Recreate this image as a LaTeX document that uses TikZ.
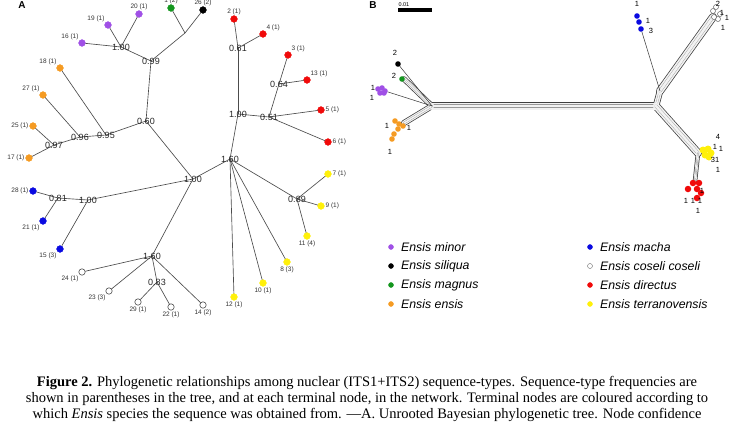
\documentclass[tikz,border=0pt]{standalone}
\usepackage{fontspec}
\setmainfont{Liberation Serif}
\setsansfont{Liberation Sans}
\usepackage{tikz}
\usetikzlibrary{positioning}
\usepackage{xcolor}
\definecolor{eminor}{RGB}{160,80,230}
\definecolor{emagnus}{RGB}{20,150,30}
\definecolor{eensis}{RGB}{245,155,35}
\definecolor{emacha}{RGB}{10,10,225}
\definecolor{edirectus}{RGB}{240,10,10}
\definecolor{eterra}{RGB}{255,240,10}

\begin{document}
\begin{tikzpicture}[x=1pt,y=-1pt,line cap=round,font=\sffamily,
  leaf/.style={circle,inner sep=0pt,minimum size=6.8pt,fill=#1,draw=#1},
  openleaf/.style={circle,inner sep=0pt,minimum size=6.4pt,fill=white,draw=black!70,line width=0.6pt},
  tip/.style={font=\sffamily\fontsize{6.5}{7}\selectfont,inner sep=0.8pt,text=black!80},
  conf/.style={font=\sffamily\fontsize{9}{9}\selectfont,inner sep=0pt,text=black!85},
  branch/.style={black!70,line width=0.65pt},
  ndot/.style={circle,inner sep=0pt,minimum size=5.6pt,fill=#1},
  nopen/.style={circle,inner sep=0pt,minimum size=5pt,fill=white,draw=black!60,line width=0.5pt},
  numlab/.style={font=\sffamily\fontsize{7.5}{8}\selectfont,inner sep=0pt},
  netline/.style={black!75,line width=0.55pt},
  legdot/.style={circle,inner sep=0pt,minimum size=5pt,fill=#1},
  legtext/.style={font=\sffamily\itshape\fontsize{12.3}{13}\selectfont,anchor=west,inner sep=0pt},
  caption/.style={font=\rmfamily\fontsize{14.5}{16}\selectfont,inner sep=0pt},
  panel/.style={font=\sffamily\bfseries\fontsize{10}{10}\selectfont,inner sep=0pt}]
\useasboundingbox (0,0) rectangle (734,426);

% panel A: unrooted tree
\node[panel] (labA) at (22,5) {A};
\coordinate (nP) at (121,47);
\coordinate (nGK) at (185,33);
\coordinate (n099) at (151,61);
\coordinate (n060) at (146,121);
\coordinate (n095) at (106,135);
\coordinate (n096) at (80,137);
\coordinate (n097) at (54,145);
\coordinate (nC) at (193,179);
\coordinate (nB) at (88,200);
\coordinate (n081) at (58,198);
\coordinate (nW) at (152,256);
\coordinate (n083) at (157,282);
\coordinate (nY) at (230,159);
\coordinate (nR) at (238,114);
\coordinate (n061) at (238,48);
\coordinate (n051) at (269,117);
\coordinate (n064) at (279,84);
\coordinate (n089) at (297,199);

\node[leaf=eminor,label={[tip]above left:16 (1)}] (t16) at (82,43) {};
\node[leaf=eminor,label={[tip]above left:19 (1)}] (t19) at (108,25) {};
\node[leaf=eminor,label={[tip]above:20 (1)}] (t20) at (139,14) {};
\node[leaf=emagnus,label={[tip]above:1 (2)}] (t1) at (171,8) {};
\node[leaf=black,label={[tip]above:26 (2)}] (t26) at (203,10) {};
\node[leaf=eensis,label={[tip]above left:18 (1)}] (t18) at (60,68) {};
\node[leaf=eensis,label={[tip]above left:27 (1)}] (t27) at (43,95) {};
\node[leaf=eensis,label={[tip]left:25 (1)}] (t25) at (33,126) {};
\node[leaf=eensis,label={[tip]left:17 (1)}] (t17) at (29,158) {};
\node[leaf=emacha,label={[tip]left:28 (1)}] (t28) at (33,191) {};
\node[leaf=emacha,label={[tip]below left:21 (1)}] (t21) at (43,221) {};
\node[leaf=emacha,label={[tip]below left:15 (3)}] (t15) at (60,249) {};
\node[openleaf,label={[tip]below left:24 (1)}] (t24) at (82,272) {};
\node[openleaf,label={[tip]below left:23 (3)}] (t23) at (109,291) {};
\node[openleaf,label={[tip]below:29 (1)}] (t29) at (138,302) {};
\node[openleaf,label={[tip]below:22 (1)}] (t22) at (171,307) {};
\node[openleaf,label={[tip]below:14 (2)}] (t14) at (203,305) {};
\node[leaf=edirectus,label={[tip]above:2 (1)}] (t2) at (234,19) {};
\node[leaf=edirectus,label={[tip]above right:4 (1)}] (t4) at (263,34) {};
\node[leaf=edirectus,label={[tip]above right:3 (1)}] (t3) at (288,55) {};
\node[leaf=edirectus,label={[tip]above right:13 (1)}] (t13) at (307,80) {};
\node[leaf=edirectus,label={[tip]right:5 (1)}] (t5) at (321,110) {};
\node[leaf=edirectus,label={[tip]right:6 (1)}] (t6) at (328,142) {};
\node[leaf=eterra,label={[tip]right:7 (1)}] (t7) at (328,174) {};
\node[leaf=eterra,label={[tip]right:9 (1)}] (t9) at (321,206) {};
\node[leaf=eterra,label={[tip]below:11 (4)}] (t11) at (307,236) {};
\node[leaf=eterra,label={[tip]below:8 (3)}] (t8) at (287,262) {};
\node[leaf=eterra,label={[tip]below:10 (1)}] (t10) at (263,283) {};
\node[leaf=eterra,label={[tip]below:12 (1)}] (t12) at (234,297) {};

\foreach \a/\b in {t16/nP,t19/nP,t20/nP,nP/n099,t1/nGK,t26/nGK,nGK/n099,n099/n060,
    n060/n095,t18/n095,n095/n096,t27/n096,n096/n097,t25/n097,n097/t17,
    n060/nC,nC/nB,nB/t15,nB/n081,n081/t28,n081/t21,
    nC/nW,nW/t24,nW/t23,nW/n083,n083/t29,n083/t22,nW/t14,
    nC/nY,nY/nR,nR/n061,n061/t2,n061/t4,nR/n051,n051/t5,n051/t6,n051/n064,n064/t3,n064/t13,
    nY/t12,nY/t10,nY/t8,nY/n089,n089/t7,n089/t9,n089/t11}
  \draw[branch] (\a) -- (\b);

\foreach \n/\t in {nP/1.00,n099/0.99,n060/0.60,n095/0.95,n096/0.96,n097/0.97,nC/1.00,
    nB/1.00,n081/0.81,nW/1.60,n083/0.83,nY/1.60,nR/1.00,n061/0.61,n051/0.51,n064/0.64,n089/0.89}
  \node[conf] (c\n) at (\n) {\t};

% panel B: network
\node[panel] (labB) at (373,5) {B};
\coordinate (sb1) at (398,10);
\coordinate (sb2) at (432,10);
\draw[line width=4pt,line cap=butt] (sb1) -- (sb2);
\node[font=\sffamily\fontsize{5.5}{6}\selectfont,anchor=south west,inner sep=0.3pt] (sbl) at (398,7.5) {0.01};

\coordinate (jL) at (432,106);
\coordinate (jR) at (656,106);
\coordinate (jU) at (660,91);
\coordinate (jW) at (713,17);
\coordinate (jD) at (698,153);
\coordinate (jRd) at (695,181);
\coordinate (jG) at (404,79);
\coordinate (jO) at (404,123);

\foreach \a/\b/\wo in {jL/jR/8.5pt,jR/jU/6.5pt,jU/jW/8pt,jR/jD/8pt,jD/jRd/4.5pt,jL/jG/5.5pt,jL/jO/6pt}
  \draw[black!75,line width=\wo] (\a) -- (\b);
\foreach \a/\b/\wi/\wc in {jL/jR/7pt/2.5pt,jR/jU/5pt/1.5pt,jU/jW/6.5pt/2.5pt,jR/jD/6.5pt/2.5pt,
    jD/jRd/3pt/0.8pt,jL/jG/4pt/1.2pt,jL/jO/4.5pt/1.5pt} {
  \draw[gray!10,line width=\wi] (\a) -- (\b);
  \draw[black!40,line width=0.35pt,double=gray!10,double distance=\wc] (\a) -- (\b);
}

\node[ndot=black] (kb) at (398,64) {};
\node[ndot=emagnus] (kg) at (402,79) {};
\foreach \x/\y [count=\i] in {378/89,382/88,385/91,380/93,384/93}
  \node[ndot=eminor] (kp\i) at (\x,\y) {};
\foreach \x/\y [count=\i] in {395/121,399/124,403/126,398/129,394/134,392/139}
  \node[ndot=eensis] (ko\i) at (\x,\y) {};
\foreach \x/\y [count=\i] in {637/16,639/22,641/29}
  \node[ndot=emacha] (km\i) at (\x,\y) {};
\foreach \x/\y [count=\i] in {713/11,716/7,720/14,718/19,714/17}
  \node[nopen] (kw\i) at (\x,\y) {};
\foreach \x/\y [count=\i] in {703/150,708/149,711/153,705/155,709/157}
  \node[ndot=eterra,minimum size=7pt] (ky\i) at (\x,\y) {};
\foreach \x/\y [count=\i] in {693/183,699/183,688/189,697/189,701/193,697/198}
  \node[ndot=edirectus,minimum size=6.5pt] (kr\i) at (\x,\y) {};

\draw[netline] (kb) -- (jL);
\draw[netline] (kp3) -- (jL);
\draw[netline] (km3) -- (jU);

\foreach \x/\y/\t [count=\i] in {395/53/2,394/76/2,373/88/1,372/98/1,387/126/1,409/128/1,390/152/1,
    637/4/1,648/21/1,651/31/3,718/4/2,722/13/1,727/18/1,723/28/1,
    718/137/4,715/147/1,721/149/1,715/160/31,718/170/1,
    702/191/1,686/201/1,693/201/1,700/201/1,698/211/1}
  \node[numlab] (nl\i) at (\x,\y) {\t};

% legend
\foreach \c/\d/\t [count=\i] in {eminor/eminor/minor,black/black/siliqua,emagnus/emagnus/magnus,eensis/eensis/ensis} {
  \node[legdot=\c,draw=\d] (lgl\i) at (391,{228+19*\i}) {};
  \node[legtext] (ltl\i) at (401,{228+19*\i}) {Ensis \t};
}
\foreach \c/\d/\t [count=\i] in {emacha/emacha/macha,white/black!60/coseli coseli,edirectus/edirectus/directus,eterra/eterra/terranovensis} {
  \node[legdot=\c,draw=\d] (lgr\i) at (590,{228+19*\i}) {};
  \node[legtext] (ltr\i) at (600,{228+19*\i}) {Ensis \t};
}

% caption
\node[caption] (cap1) at (367,383) {\textbf{Figure 2.} Phylogenetic relationships among nuclear (ITS1+ITS2) sequence-types. Sequence-type frequencies are};
\node[caption] (cap2) at (367,399) {shown in parentheses in the tree, and at each terminal node, in the network. Terminal nodes are coloured according to};
\node[caption] (cap3) at (367,415) {which \textit{Ensis} species the sequence was obtained from. ---A. Unrooted Bayesian phylogenetic tree. Node confidence};
\end{tikzpicture}
\end{document}
